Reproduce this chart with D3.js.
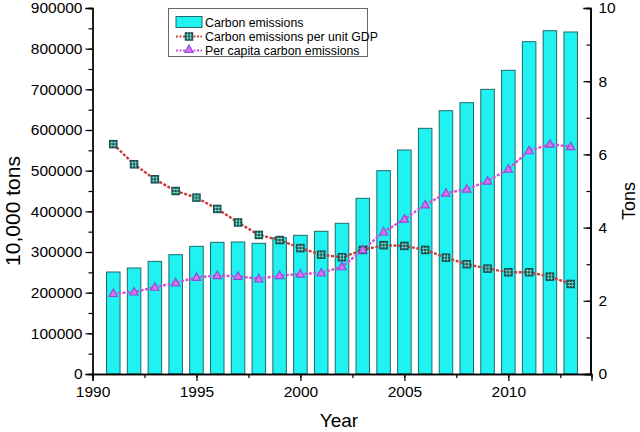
<!DOCTYPE html>
<html><head><meta charset="utf-8">
<script src="https://cdn.jsdelivr.net/npm/d3@7"></script>
<style>body{margin:0;background:#fff}svg{display:block}text{font-family:"Liberation Sans",Arial,sans-serif}</style>
</head><body><svg id="c" width="640" height="432"></svg>
<script>
const years = [1991,1992,1993,1994,1995,1996,1997,1998,1999,2000,2001,2002,2003,2004,2005,2006,2007,2008,2009,2010,2011,2012,2013];
const emissions = [250800,260700,277000,293400,314000,323800,324600,321400,335200,341000,350900,370600,432000,500000,550800,604100,647500,667200,700000,746800,817200,844200,841000];
const perGDP = [6.28,5.73,5.32,5.00,4.82,4.51,4.14,3.80,3.66,3.44,3.26,3.19,3.39,3.52,3.50,3.39,3.18,3.00,2.88,2.78,2.78,2.66,2.46];
const perCapita = [2.20,2.24,2.37,2.49,2.64,2.69,2.67,2.60,2.69,2.73,2.76,2.93,3.39,3.88,4.23,4.62,4.94,5.05,5.27,5.60,6.10,6.28,6.21];
const leftTicks = [0,100000,200000,300000,400000,500000,600000,700000,800000,900000];
const rightTicks = [0,2,4,6,8,10];
const xTicks = [1990,1995,2000,2005,2010];
const legendLabels = ["Carbon emissions","Carbon emissions per unit GDP","Per capita carbon emissions"];

const svg = d3.select("#c");
const L=92.5, R=590.5, T=8, B=374;
const x = d3.scaleLinear().domain([1990,2014]).range([L,R+1]);
const yL = d3.scaleLinear().domain([0,900000]).range([B,T]);
const yR = d3.scaleLinear().domain([0,10]).range([B,T]);
const barW = 0.65*(x(1991)-x(1990));

// bars
svg.append("g").selectAll("rect").data(years).join("rect")
  .attr("x",(d)=>x(d)-barW/2).attr("width",barW)
  .attr("y",(d,i)=>yL(emissions[i])).attr("height",(d,i)=>B-yL(emissions[i]))
  .attr("fill","#1ff2f0").attr("stroke","#1f6a6a").attr("stroke-width",1);

// axes
const fs = "15.5px";
const gL = svg.append("g").attr("transform",`translate(${L},0)`)
  .call(d3.axisLeft(yL).tickValues(d3.range(0,900001,50000)).tickFormat("").tickSize(4));
gL.append("g").call(d3.axisLeft(yL).tickValues(leftTicks).tickFormat(d3.format("d")).tickSize(7).tickPadding(3));
const gR = svg.append("g").attr("transform",`translate(${R},0)`)
  .call(d3.axisLeft(yR).tickValues(d3.range(0,11,1)).tickFormat("").tickSize(4));
gR.append("g").call(d3.axisLeft(yR).tickValues(rightTicks).tickSize(7).tickFormat(""));
svg.append("g").attr("transform",`translate(${R},0)`)
  .call(d3.axisRight(yR).tickValues(rightTicks).tickSize(0).tickPadding(8).tickFormat(d3.format("d")));
const gX = svg.append("g").attr("transform",`translate(0,${B})`)
  .call(d3.axisBottom(x).tickValues(d3.range(1990,2014,2.5)).tickFormat("").tickSize(4));
gX.append("g").call(d3.axisBottom(x).tickValues(xTicks).tickFormat(d3.format("d")).tickSize(7).tickPadding(5));
svg.selectAll(".domain").attr("stroke","#000").attr("stroke-width",1.3);
svg.selectAll(".tick line").attr("stroke","#000").attr("stroke-width",1.2);
svg.selectAll(".tick text").attr("font-size",fs).attr("fill","#000").attr("font-family","Liberation Sans, Arial, sans-serif");

// axis titles
svg.append("text").attr("transform","translate(20,211) rotate(-90)").attr("text-anchor","middle")
  .attr("font-size","21px").text("10,000 tons");
svg.append("text").attr("transform","translate(635,201) rotate(-90)").attr("text-anchor","middle")
  .attr("font-size","18px").text("Tons");
svg.append("text").attr("x",339).attr("y",427).attr("text-anchor","middle")
  .attr("font-size","19px").text("Year");

// lines
const lineGen = (arr)=>d3.line().x((d,i)=>x(years[i])).y((d)=>yR(d))(arr);
svg.append("path").attr("d",lineGen(perGDP)).attr("fill","none")
  .attr("stroke","#c44040").attr("stroke-width",2.4).attr("stroke-dasharray","3,1.6");
svg.append("path").attr("d",lineGen(perCapita)).attr("fill","none")
  .attr("stroke","#d24fd8").attr("stroke-width",2.4).attr("stroke-dasharray","3,1.6");

function squareMarker(g,cx,cy){
  const s=8.5;
  g.append("rect").attr("x",cx-s/2).attr("y",cy-s/2).attr("width",s).attr("height",s)
    .attr("fill","#174c4c");
  g.append("path").attr("d",`M${cx-s/2+1},${cy-1.5}H${cx+s/2-1}M${cx-s/2+1},${cy+1.5}H${cx+s/2-1}M${cx-1.5},${cy-s/2+1}V${cy+s/2-1}M${cx+1.5},${cy-s/2+1}V${cy+s/2-1}`)
    .attr("stroke","#6fd6c8").attr("stroke-width",0.9);
}
function triMarker(g,cx,cy){
  const h=7.5;
  g.append("path").attr("d",`M${cx},${cy-h*0.6}L${cx+h*0.55},${cy+h*0.4}L${cx-h*0.55},${cy+h*0.4}Z`)
    .attr("fill","#e070e8").attr("stroke","#8a4fd8").attr("stroke-width",1.2);
}
const mg = svg.append("g");
perGDP.forEach((v,i)=>squareMarker(mg,x(years[i]),yR(v)));
perCapita.forEach((v,i)=>triMarker(mg,x(years[i]),yR(v)));

// legend
const lg = svg.append("g");
lg.append("rect").attr("x",168.5).attr("y",8.5).attr("width",199).attr("height",48)
  .attr("fill","#fff").attr("stroke","#666").attr("stroke-width",1);
const rows=[22.5,36.5,50.5];
lg.append("rect").attr("x",176).attr("y",16.5).attr("width",26).attr("height",11)
  .attr("fill","#1ff2f0").attr("stroke","#1f6a6a");
lg.append("line").attr("x1",176).attr("x2",202).attr("y1",rows[1]).attr("y2",rows[1])
  .attr("stroke","#c44040").attr("stroke-width",2).attr("stroke-dasharray","2,1.5");
squareMarker(lg,189,rows[1]);
lg.append("line").attr("x1",176).attr("x2",202).attr("y1",rows[2]).attr("y2",rows[2])
  .attr("stroke","#d24fd8").attr("stroke-width",2).attr("stroke-dasharray","2,1.5");
triMarker(lg,189,rows[2]-1);
legendLabels.forEach((t,i)=>lg.append("text").attr("x",205).attr("y",rows[i]+4.5)
  .attr("font-size","12.3px").text(t));
</script></body></html>
